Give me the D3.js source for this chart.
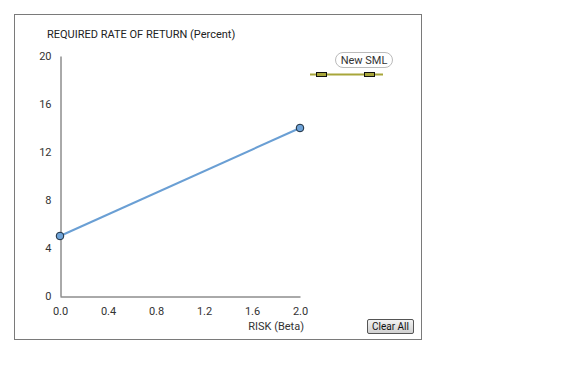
<!DOCTYPE html>
<html><head><meta charset="utf-8">
<script src="https://cdn.jsdelivr.net/npm/d3@7"></script>
<style>body{margin:0;background:#fff;} text{font-family:Roboto,"DejaVu Sans",sans-serif;}</style>
</head><body>
<svg id="c" width="578" height="390"></svg>
<script>
const betaTicks = [0, 0.4, 0.8, 1.2, 1.6, 2.0];
const returnTicks = [0, 4, 8, 12, 16, 20];
const smlBeta = [0, 2];
const smlReturn = [5, 14];
const legendLabel = "New SML";
const yTitle = "REQUIRED RATE OF RETURN (Percent)";
const xTitle = "RISK (Beta)";

const svg = d3.select("#c");
svg.append("rect").attr("x",14.5).attr("y",14.5).attr("width",407).attr("height",325)
  .attr("fill","#fff").attr("stroke","#7a7a7a").attr("stroke-width",1);

const x = d3.scaleLinear().domain([0,2]).range([60,300]);
const y = d3.scaleLinear().domain([0,20]).range([296,56]);

const g = svg.append("g");
const xAxis = g.append("g").attr("transform","translate(0,296.5)")
  .call(d3.axisBottom(x).tickValues(betaTicks).tickSize(0).tickPadding(11).tickFormat(d3.format(".1f")));
const yAxis = g.append("g").attr("transform","translate(60.5,0)")
  .call(d3.axisLeft(y).tickValues(returnTicks).tickSize(0).tickPadding(9));
[xAxis,yAxis].forEach(a=>{
  a.select(".domain").attr("stroke","#555");
  a.selectAll("text").attr("fill","#333").style("font-size","11px").attr("font-family","Roboto");
});

svg.append("text").attr("x",47).attr("y",38).text(yTitle)
  .style("font-size","11px").attr("fill","#222");
svg.append("text").attr("x",304).attr("y",330).attr("text-anchor","end").text(xTitle)
  .style("font-size","11px").attr("fill","#333");

const pts = smlBeta.map((b,i)=>[b,smlReturn[i]]);
svg.append("path").attr("d",d3.line().x(d=>x(d[0])).y(d=>y(d[1]))(pts))
  .attr("stroke","#6a9fd4").attr("stroke-width",2).attr("fill","none");
svg.selectAll("circle.p").data(pts).join("circle").attr("class","p")
  .attr("cx",d=>x(d[0])).attr("cy",d=>y(d[1])).attr("r",3.8)
  .attr("fill","#6ea3d8").attr("stroke","#1a2a3a").attr("stroke-width",1);

// legend
const lg = svg.append("g");
lg.append("rect").attr("x",335.5).attr("y",52.5).attr("width",57).attr("height",15).attr("rx",7.5)
  .attr("fill","#fff").attr("stroke","#bbb");
lg.append("text").attr("x",364).attr("y",64).attr("text-anchor","middle").text(legendLabel)
  .style("font-size","11px").attr("fill","#333");
lg.append("line").attr("x1",310).attr("x2",383).attr("y1",74.5).attr("y2",74.5)
  .attr("stroke","#a8a63a").attr("stroke-width",2);
[322,370].forEach(cx=>{
  lg.append("rect").attr("x",cx-5.5).attr("y",72.5).attr("width",10).attr("height",4)
    .attr("fill","#a8a63a").attr("stroke","#111").attr("stroke-width",1);
});

// Clear All button
const bg = svg.append("linearGradient").attr("id","bgr").attr("x1",0).attr("y1",0).attr("x2",0).attr("y2",1);
bg.append("stop").attr("offset",0).attr("stop-color","#f4f4f4");
bg.append("stop").attr("offset",1).attr("stop-color","#cfcfcf");
svg.append("rect").attr("x",367.5).attr("y",319.5).attr("width",46).attr("height",14).attr("rx",1.5)
  .attr("fill","url(#bgr)").attr("stroke","#555");
svg.append("text").attr("x",390.5).attr("y",330).attr("text-anchor","middle").text("Clear All")
  .style("font-size","10px").attr("fill","#111");
</script>
</body></html>
